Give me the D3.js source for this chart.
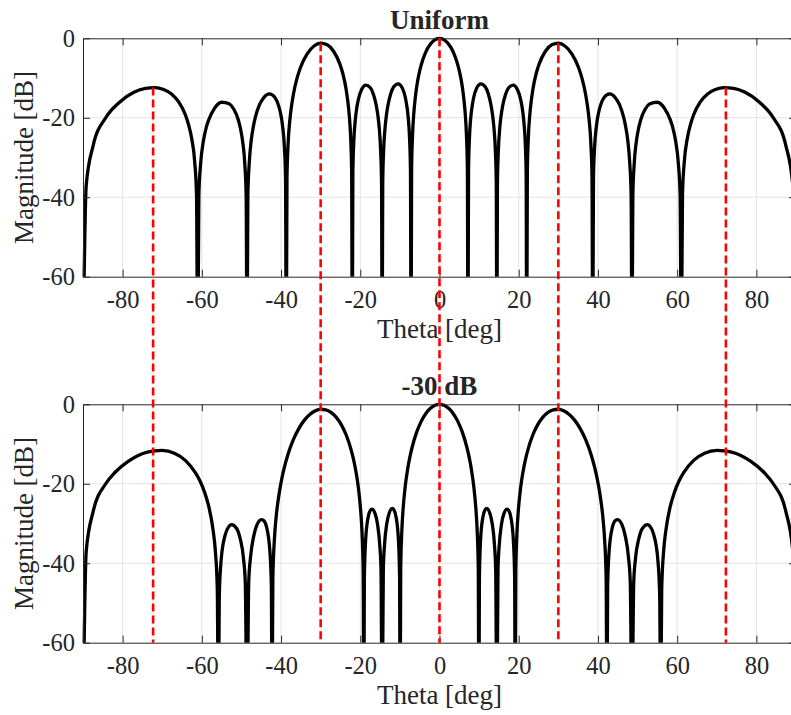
<!DOCTYPE html>
<html>
<head>
<meta charset="UTF-8">
<title>Array pattern: Uniform vs -30 dB</title>
<style>
  body { margin: 0; background: #ffffff; }
  text { font-family: "Liberation Serif", "Times New Roman", serif; fill: #262626; }
</style>
</head>
<body>
<svg id="chart"></svg>

<script src="https://cdn.jsdelivr.net/npm/d3@7/dist/d3.min.js"></script>
<script>
// ---- data: [theta (deg), magnitude (dB)] ----
// values below -60 just mark the nulls (clipped by the axes)
var uniformPattern = [
  [-90,-80],[-89.19,-37.0],[-87.44,-27.0],[-84.27,-20.0],[-80.93,-16.2],[-77.16,-13.6],[-74.26,-12.6],[-71.81,-12.4],
  [-69.64,-12.9],[-67.67,-14.0],[-65.85,-16.0],[-64.16,-19.25],[-63.34,-21.8],[-62.56,-25.2],[-61.79,-31.2],[-61.35,-39.2],[-61.04,-80],
  [-60.75,-39.5],[-60.31,-31.6],[-59.60,-25.8],[-58.90,-22.5],[-58.21,-20.4],[-56.88,-17.75],[-54.96,-16.1],[-53.13,-16.5],
  [-51.95,-17.8],[-50.81,-20.5],[-50.25,-22.7],[-49.69,-26.0],[-49.14,-31.8],[-48.81,-39.7],[-48.59,-80],
  [-48.38,-39.6],[-48.05,-31.7],[-47.52,-25.6],[-46.99,-22.2],[-46.47,-19.8],[-45.44,-16.7],[-44.43,-15.0],[-42.94,-14.0],
  [-41.49,-15.0],[-40.54,-17.2],[-40.08,-19.1],[-39.61,-22.1],[-39.14,-27.7],[-38.87,-35.4],[-38.68,-80],
  [-38.50,-35.0],[-38.23,-26.8],[-37.77,-20.5],[-37.32,-16.8],[-36.87,-14.0],[-35.98,-10.1],[-35.10,-7.36],[-33.37,-3.85],
  [-31.67,-1.94],[-30.00,-1.25],[-28.36,-1.65],[-26.74,-3.26],[-25.15,-6.5],[-24.36,-9.05],[-23.58,-12.8],[-23.19,-15.55],
  [-22.80,-19.2],[-22.41,-25.4],[-22.18,-33.5],[-22.02,-80],
  [-21.87,-33.9],[-21.64,-26.1],[-21.25,-20.5],[-20.87,-17.4],[-20.49,-15.4],[-19.72,-13.0],[-18.59,-11.8],[-17.46,-12.45],
  [-16.71,-14.0],[-15.96,-16.9],[-15.59,-19.2],[-15.22,-22.5],[-14.85,-28.5],[-14.63,-36.4],[-14.48,-80],
  [-14.33,-36.4],[-14.11,-28.4],[-13.74,-22.5],[-13.37,-19.1],[-13.00,-16.8],[-12.27,-13.8],[-11.54,-12.2],[-10.44,-11.45],
  [-9.35,-12.6],[-8.63,-14.9],[-8.27,-16.9],[-7.90,-19.9],[-7.54,-25.6],[-7.33,-33.3],[-7.18,-80],
  [-7.04,-32.9],[-6.82,-24.78],[-6.46,-18.55],[-6.10,-14.87],[-5.74,-12.08],[-5.02,-8.27],[-4.30,-5.64],[-3.58,-3.72],
  [-2.87,-2.29],[-1.43,-0.54],[0,0],
  [1.43,-0.54],[2.87,-2.29],[3.58,-3.72],[4.30,-5.64],[5.02,-8.27],[5.74,-12.08],[6.10,-14.87],[6.46,-18.55],[6.82,-24.78],
  [7.04,-32.9],[7.18,-80],
  [7.33,-33.3],[7.54,-25.6],[7.90,-19.9],[8.27,-16.9],[8.63,-14.9],[9.35,-12.6],[10.44,-11.45],[11.54,-12.2],[12.27,-13.8],
  [13.00,-16.8],[13.37,-19.1],[13.74,-22.5],[14.11,-28.4],[14.33,-36.4],[14.48,-80],
  [14.63,-36.4],[14.85,-28.5],[15.22,-22.5],[15.59,-19.2],[15.96,-16.9],[16.71,-14.0],[17.46,-12.45],[18.59,-11.8],
  [19.72,-13.0],[20.49,-15.4],[20.87,-17.4],[21.25,-20.5],[21.64,-26.1],[21.87,-33.9],[22.02,-80],
  [22.18,-33.5],[22.41,-25.4],[22.80,-19.2],[23.19,-15.55],[23.58,-12.8],[24.36,-9.05],[25.15,-6.5],[26.74,-3.26],
  [28.36,-1.65],[30.00,-1.25],[31.67,-1.94],[33.37,-3.85],[35.10,-7.36],[35.98,-10.1],[36.87,-14.0],[37.32,-16.8],
  [37.77,-20.5],[38.23,-26.8],[38.50,-35.0],[38.68,-80],
  [38.87,-35.4],[39.14,-27.7],[39.61,-22.1],[40.08,-19.1],[40.54,-17.2],[41.49,-15.0],[42.94,-14.0],[44.43,-15.0],
  [45.44,-16.7],[46.47,-19.8],[46.99,-22.2],[47.52,-25.6],[48.05,-31.7],[48.38,-39.6],[48.59,-80],
  [48.81,-39.7],[49.14,-31.8],[49.69,-26.0],[50.25,-22.7],[50.81,-20.5],[51.95,-17.8],[53.13,-16.5],[54.96,-16.1],
  [56.88,-17.75],[58.21,-20.4],[58.90,-22.5],[59.60,-25.8],[60.31,-31.6],[60.75,-39.5],[61.04,-80],
  [61.35,-39.2],[61.79,-31.2],[62.56,-25.2],[63.34,-21.8],[64.16,-19.25],[65.85,-16.0],[67.67,-14.0],[69.64,-12.9],
  [71.81,-12.4],[74.26,-12.6],[77.16,-13.6],[80.93,-16.2],[84.27,-20.0],[87.44,-27.0],[89.19,-37.0],[90,-80]
];

var taperPattern = [
  [-90,-80],[-89.19,-37.0],[-87.44,-27.0],[-84.27,-20.0],[-81.89,-17.1],[-78.52,-14.3],[-75.93,-12.8],[-73.74,-12.05],
  [-71.81,-11.7],[-70.05,-11.6],[-66.93,-12.3],[-64.16,-14.1],[-61.64,-17.2],[-60.46,-19.3],[-59.32,-22.1],[-58.21,-25.9],
  [-57.14,-31.8],[-56.61,-36.65],[-56.10,-46.35],[-55.83,-80],
  [-55.59,-48.1],[-55.09,-38.8],[-54.10,-32.85],[-53.13,-30.7],[-52.51,-30.3],[-51.26,-31.2],[-50.35,-33.7],[-49.46,-39.0],
  [-49.03,-44.9],[-48.59,-80],
  [-48.16,-44.7],[-47.73,-38.7],[-46.89,-33.1],[-46.06,-30.3],[-44.96,-29.0],[-44.43,-29.2],[-43.63,-31.0],[-42.84,-36.7],
  [-42.45,-45.8],[-42.27,-80],
  [-42.07,-43.9],[-41.68,-34.0],[-41.30,-29.0],[-40.54,-22.8],[-39.79,-18.6],[-39.05,-15.4],[-38.32,-12.8],[-36.87,-8.85],
  [-35.45,-5.99],[-34.06,-3.92],[-32.68,-2.49],[-31.33,-1.62],[-30.00,-1.25],[-28.69,-1.38],[-27.39,-2.03],[-26.11,-3.22],
  [-24.84,-5.05],[-23.58,-7.66],[-22.33,-11.4],[-21.72,-13.8],[-21.10,-16.9],[-20.49,-20.9],[-19.88,-27.0],[-19.57,-32.0],
  [-19.27,-41.8],[-19.11,-80],
  [-18.97,-43.65],[-18.66,-34.4],[-18.06,-28.65],[-17.46,-26.7],[-17.06,-26.4],[-16.26,-27.5],[-15.66,-30.1],[-15.07,-35.6],
  [-14.77,-41.5],[-14.48,-80],
  [-14.18,-41.5],[-13.89,-35.55],[-13.30,-30.0],[-12.71,-27.4],[-11.92,-26.2],[-11.54,-26.5],[-10.95,-28.4],[-10.37,-34.1],
  [-10.08,-43.3],[-9.94,-80],
  [-9.79,-41.4],[-9.50,-31.58],[-9.21,-26.61],[-8.63,-20.47],[-8.05,-16.37],[-7.47,-13.25],[-6.89,-10.75],[-5.74,-6.95],
  [-4.59,-4.23],[-3.44,-2.30],[-2.29,-1.00],[-1.15,-0.25],[0,0],
  [1.15,-0.25],[2.29,-1.00],[3.44,-2.30],[4.59,-4.23],[5.74,-6.95],[6.89,-10.75],[7.47,-13.25],[8.05,-16.37],[8.63,-20.47],
  [9.21,-26.61],[9.50,-31.58],[9.79,-41.4],[9.94,-80],
  [10.08,-43.3],[10.37,-34.1],[10.95,-28.4],[11.54,-26.5],[11.92,-26.2],[12.71,-27.4],[13.30,-30.0],[13.89,-35.55],
  [14.18,-41.5],[14.48,-80],
  [14.77,-41.5],[15.07,-35.6],[15.66,-30.1],[16.26,-27.5],[17.06,-26.4],[17.46,-26.7],[18.06,-28.65],[18.66,-34.4],
  [18.97,-43.65],[19.11,-80],
  [19.27,-41.8],[19.57,-32.0],[19.88,-27.0],[20.49,-20.9],[21.10,-16.9],[21.72,-13.8],[22.33,-11.4],[23.58,-7.66],
  [24.84,-5.05],[26.11,-3.22],[27.39,-2.03],[28.69,-1.38],[30.00,-1.25],[31.33,-1.62],[32.68,-2.49],[34.06,-3.92],
  [35.45,-5.99],[36.87,-8.85],[38.32,-12.8],[39.05,-15.4],[39.79,-18.6],[40.54,-22.8],[41.30,-29.0],[41.68,-34.0],
  [42.07,-43.9],[42.27,-80],
  [42.45,-45.8],[42.84,-36.7],[43.63,-31.0],[44.43,-29.2],[44.96,-29.0],[46.06,-30.3],[46.89,-33.1],[47.73,-38.7],
  [48.16,-44.7],[48.59,-80],
  [49.03,-44.9],[49.46,-39.0],[50.35,-33.7],[51.26,-31.2],[52.51,-30.3],[53.13,-30.7],[54.10,-32.85],[55.09,-38.8],
  [55.59,-48.1],[55.83,-80],
  [56.10,-46.35],[56.61,-36.65],[57.14,-31.8],[58.21,-25.9],[59.32,-22.1],[60.46,-19.3],[61.64,-17.2],[64.16,-14.1],
  [66.93,-12.3],[70.05,-11.6],[71.81,-11.7],[73.74,-12.05],[75.93,-12.8],[78.52,-14.3],[81.89,-17.1],[84.27,-20.0],
  [87.44,-27.0],[89.19,-37.0],[90,-80]
];

// red dashed markers: beam directions and the level where they start on the top curve
var markerTheta = [-72.3, -30, 0, 30, 72.3];
var markerTopDb = [-12.4, -1.25, 0, -1.25, -12.4];

var thetaTicks = [-80, -60, -40, -20, 0, 20, 40, 60, 80];
var dbTicks = [-60, -40, -20, 0];
var panelTitles = ["Uniform", "-30 dB"];

// ---- layout ----
var width = 791, height = 715;
var left = 83, right = 796;
var panels = [
  { top: 38.3, bottom: 276.7, data: uniformPattern, title: panelTitles[0] },
  { top: 404.3, bottom: 642.7, data: taperPattern, title: panelTitles[1] }
];
var tickLen = 7;
var axisColor = "#262626";

var svg = d3.select("#chart").attr("width", width).attr("height", height);

var x = d3.scaleLinear().domain([-90, 90]).range([left, right]);

panels.forEach(function(p, i) {
  p.y = d3.scaleLinear().domain([-60, 0]).range([p.bottom, p.top]);
  var g = svg.append("g").attr("class", "panel");

  // grid
  g.append("g").selectAll("line").data(thetaTicks).enter().append("line")
    .attr("x1", function(d) { return x(d); }).attr("x2", function(d) { return x(d); })
    .attr("y1", p.top).attr("y2", p.bottom)
    .attr("stroke", "#e3e3e3").attr("stroke-width", 1);
  g.append("g").selectAll("line").data(dbTicks.slice(1, 3)).enter().append("line")
    .attr("x1", left).attr("x2", right)
    .attr("y1", function(d) { return p.y(d); }).attr("y2", function(d) { return p.y(d); })
    .attr("stroke", "#e3e3e3").attr("stroke-width", 1);

  // clip for the curve
  svg.append("clipPath").attr("id", "clip" + i)
    .append("rect")
    .attr("x", left - 4).attr("y", p.top - 4)
    .attr("width", right - left + 8).attr("height", p.bottom - p.top + 4);

  var line = d3.line()
    .x(function(d) { return x(d[0]); })
    .y(function(d) { return p.y(d[1]); })
    .curve(d3.curveMonotoneX);

  g.append("path")
    .datum(p.data)
    .attr("clip-path", "url(#clip" + i + ")")
    .attr("fill", "none")
    .attr("stroke", "#000")
    .attr("stroke-width", 3.3)
    .attr("stroke-linejoin", "round")
    .attr("d", line);

  // axes (box with inward ticks)
  var fmt = function(d) { return String(d); };
  var xb = g.append("g").attr("transform", "translate(0," + p.bottom + ")")
    .call(d3.axisBottom(x).tickValues(thetaTicks).tickFormat(fmt).tickSizeInner(-tickLen).tickSizeOuter(0).tickPadding(13.5));
  var xt = g.append("g").attr("transform", "translate(0," + p.top + ")")
    .call(d3.axisTop(x).tickValues(thetaTicks).tickFormat("").tickSizeInner(-tickLen).tickSizeOuter(0));
  var yl = g.append("g").attr("transform", "translate(" + left + ",0)")
    .call(d3.axisLeft(p.y).tickValues(dbTicks).tickFormat(fmt).tickSizeInner(-tickLen).tickSizeOuter(0).tickPadding(8));
  var yr = g.append("g").attr("transform", "translate(" + right + ",0)")
    .call(d3.axisRight(p.y).tickValues(dbTicks).tickFormat("").tickSizeInner(-tickLen).tickSizeOuter(0));

  [xb, xt, yl, yr].forEach(function(a) {
    a.select(".domain").attr("stroke", axisColor).attr("stroke-width", 1);
    a.selectAll(".tick line").attr("stroke", axisColor).attr("stroke-width", 1);
    a.selectAll(".tick text")
      .attr("fill", axisColor)
      .style("font-family", '"Liberation Serif", "Times New Roman", serif')
      .style("font-size", "24.5px");
  });

  // axis labels
  g.append("text")
    .attr("x", (left + right) / 2)
    .attr("y", p.bottom + 61.6)
    .attr("text-anchor", "middle")
    .style("font-size", "27px")
    .text("Theta [deg]");

  g.append("text")
    .attr("transform", "translate(33.3," + ((p.top + p.bottom) / 2) + ") rotate(-90)")
    .attr("text-anchor", "middle")
    .style("font-size", "27px")
    .text("Magnitude [dB]");

  // title
  g.append("text")
    .attr("x", (left + right) / 2)
    .attr("y", p.top - 9.3)
    .attr("text-anchor", "middle")
    .style("font-size", "27px")
    .style("font-weight", "bold")
    .attr("fill", "#000")
    .text(p.title);
});

// red dashed lines running from the top curve down to the bottom axis floor
var markers = markerTheta.map(function(t, k) { return { theta: t, db: markerTopDb[k] }; });
svg.append("g").selectAll("line").data(markers).enter().append("line")
  .attr("x1", function(d) { return x(d.theta); })
  .attr("x2", function(d) { return x(d.theta); })
  .attr("y1", function(d) { return panels[0].y(d.db); })
  .attr("y2", panels[1].y(-60))
  .attr("stroke", "#ff0000")
  .attr("stroke-width", 2.6)
  .attr("stroke-dasharray", "8,4");
</script>
</body>
</html>
